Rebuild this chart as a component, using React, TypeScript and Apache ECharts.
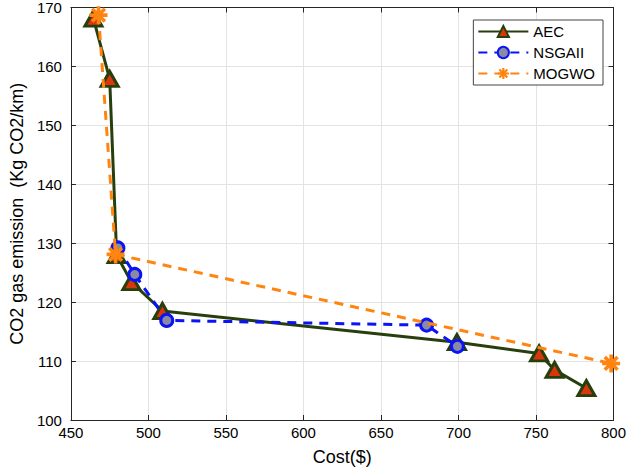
import React, { useEffect, useRef } from "react";
import * as echarts from "echarts";

const aecCost = [464.5, 475, 479.5, 489, 509, 699, 752, 762, 782.5];
const aecCo2 = [168.1, 157.9, 128.0, 123.4, 118.5, 113.2, 111.3, 108.5, 105.4];

const nsgaCost = [480.3, 491.2, 511.8, 679.4, 699.3];
const nsgaCo2 = [129.2, 124.7, 116.9, 116.1, 112.5];

const mogwoCost = [467.8, 478.8, 798.5];
const mogwoCo2 = [168.7, 128.1, 109.6];

const xTicks = { min: 450, max: 800, interval: 50 };
const yTicks = { min: 100, max: 170, interval: 10 };

const asterisk =
  "path://M8 0 L12 0 L12 20 L8 20 Z M0 8 L20 8 L20 12 L0 12 Z M4.34 1.52 L18.48 15.66 L15.66 18.48 L1.52 4.34 Z M15.66 1.52 L18.48 4.34 L4.34 18.48 L1.52 15.66 Z";

const zip = (a: number[], b: number[]) => a.map((v, i) => [v, b[i]]);

export default function App() {
  const ref = useRef<HTMLDivElement>(null);
  useEffect(() => {
    if (!ref.current) return;
    const chart = echarts.init(ref.current, undefined, { renderer: "svg" });
    const font = "Arial, 'Liberation Sans', sans-serif";
    const axisCommon = {
      axisLine: { show: true, lineStyle: { color: "#262626", width: 1 } },
      axisTick: { show: true, inside: true, length: 5, lineStyle: { color: "#262626" } },
    };
    chart.setOption({
      animation: false,
      backgroundColor: "#ffffff",
      textStyle: { fontFamily: font },
      grid: { left: 60, right: 12, top: 7, bottom: 48, containLabel: false },
      legend: {
        right: 26,
        top: 20,
        orient: "vertical",
        backgroundColor: "#fff",
        borderColor: "#444",
        borderWidth: 1,
        padding: [4, 8, 4, 4],
        itemWidth: 50,
        itemHeight: 14,
        itemGap: 6,
        textStyle: { fontSize: 15, color: "#000", fontFamily: font },
        data: ["AEC", "NSGAII", "MOGWO"],
      },
      xAxis: [
        {
          type: "value",
          min: xTicks.min,
          max: xTicks.max,
          interval: xTicks.interval,
          name: "Cost($)",
          nameLocation: "middle",
          nameGap: 28,
          nameTextStyle: { fontSize: 18, color: "#000" },
          axisLabel: { fontSize: 15, color: "#000", margin: 5 },
          splitLine: { show: true, lineStyle: { color: "#e3e3e3" } },
          ...axisCommon,
        },
        {
          type: "value",
          position: "top",
          min: xTicks.min,
          max: xTicks.max,
          interval: xTicks.interval,
          axisLabel: { show: false },
          splitLine: { show: false },
          ...axisCommon,
        },
      ],
      yAxis: [
        {
          type: "value",
          min: yTicks.min,
          max: yTicks.max,
          interval: yTicks.interval,
          name: "CO2 gas emission  (Kg CO2/km)",
          nameLocation: "middle",
          nameGap: 41,
          nameTextStyle: { fontSize: 18, color: "#000" },
          axisLabel: { fontSize: 15, color: "#000", margin: 9 },
          splitLine: { show: true, lineStyle: { color: "#e3e3e3" } },
          ...axisCommon,
        },
        {
          type: "value",
          position: "right",
          min: yTicks.min,
          max: yTicks.max,
          interval: yTicks.interval,
          axisLabel: { show: false },
          splitLine: { show: false },
          ...axisCommon,
        },
      ],
      series: [
        {
          name: "AEC",
          type: "line",
          data: zip(aecCost, aecCo2),
          symbol: "triangle",
          symbolSize: [17, 15],
          lineStyle: { color: "#263f0c", width: 3 },
          itemStyle: { color: "#d9360e", borderColor: "#263f0c", borderWidth: 3 },
          z: 2,
        },
        {
          name: "NSGAII",
          type: "line",
          data: zip(nsgaCost, nsgaCo2),
          symbol: "circle",
          symbolSize: 12,
          lineStyle: { color: "#0a14f5", width: 3, type: [9, 7] },
          itemStyle: { color: "#8a8aa3", borderColor: "#0a14f5", borderWidth: 3 },
          z: 3,
        },
        {
          name: "MOGWO",
          type: "line",
          data: zip(mogwoCost, mogwoCo2),
          symbol: asterisk,
          symbolSize: 18,
          symbolKeepAspect: true,
          lineStyle: { color: "#ff8410", width: 3, type: [9, 7] },
          itemStyle: { color: "#ff8410", borderWidth: 0 },
          z: 4,
        },
      ],
    });
    return () => chart.dispose();
  }, []);
  return (
    <div
      ref={ref}
      style={{ position: "absolute", left: 0, top: 0, width: 629, height: 471 }}
    />
  );
}
